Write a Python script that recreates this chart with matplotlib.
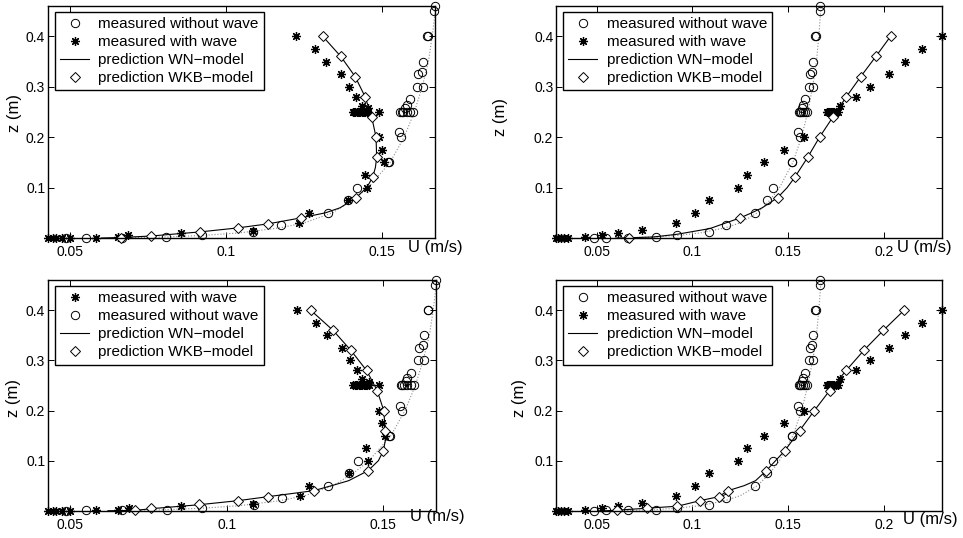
import matplotlib
matplotlib.use("Agg")
import matplotlib.pyplot as plt

plt.rcParams["font.family"] = ["Liberation Sans", "DejaVu Sans"]

# measured without wave (same profile in all four panels)
u_nowave = [0.1669, 0.1665, 0.1642, 0.1645, 0.1630, 0.1627, 0.1614, 0.1611, 0.1630, 0.1590, 0.1578, 0.1572,
            0.1556, 0.1562, 0.1568, 0.1578, 0.1589, 0.1599,
            0.1553, 0.1560, 0.1518, 0.1521, 0.1419, 0.1390, 0.1325, 0.1175, 0.1087, 0.0922, 0.0808, 0.0665,
            0.0550, 0.0486]
z_nowave = [0.46, 0.45, 0.4, 0.4, 0.35, 0.33, 0.325, 0.3, 0.3, 0.275, 0.264, 0.258,
            0.25, 0.25, 0.25, 0.25, 0.25, 0.25,
            0.21, 0.2, 0.15, 0.15, 0.1, 0.075, 0.05, 0.025, 0.012, 0.005, 0.002, 0.001, 0.0008, 0.0]

# dotted fit through the measurements without wave
u_fit = [0.066, 0.080, 0.092, 0.104, 0.117, 0.125, 0.134, 0.1405, 0.1455, 0.1525, 0.157, 0.1603,
         0.1628, 0.1648, 0.1660, 0.1672]
z_fit = [0.0005, 0.002, 0.005, 0.01, 0.02, 0.03, 0.05, 0.075, 0.1, 0.15, 0.2, 0.25, 0.3, 0.35, 0.4, 0.46]

# measured with wave, left column
u_wave_l = [0.1224, 0.1285, 0.1319, 0.1368, 0.1393, 0.1416, 0.1434, 0.1454,
            0.1405, 0.1410, 0.1414, 0.1418, 0.1422, 0.1426, 0.1430, 0.1434, 0.1438, 0.1442, 0.1446, 0.1450,
            0.1455, 0.1488,
            0.1488, 0.1498, 0.1505, 0.1445, 0.1452, 0.1390, 0.1264, 0.1233, 0.1085, 0.0855, 0.0686, 0.0652,
            0.0582, 0.0499, 0.0472, 0.0455, 0.0445, 0.0428]
z_wave_l = [0.4, 0.375, 0.35, 0.325, 0.3, 0.28, 0.2625, 0.2575,
            0.25, 0.25, 0.25, 0.25, 0.25, 0.25, 0.25, 0.25, 0.25, 0.25, 0.25, 0.25, 0.25, 0.25,
            0.2, 0.175, 0.15, 0.125, 0.1, 0.075, 0.05, 0.029, 0.014, 0.009, 0.006, 0.0015,
            0.001, 0.0, 0.0, 0.0, 0.0, 0.0]

# measured with wave, right column
u_wave_r = [0.2302, 0.2201, 0.2110, 0.2026, 0.1930, 0.1852, 0.1770,
            0.1704, 0.1708, 0.1712, 0.1716, 0.1720, 0.1724, 0.1728, 0.1732, 0.1736, 0.1742, 0.1750, 0.1760,
            0.1581, 0.1476, 0.1375, 0.1286, 0.1238, 0.1085, 0.1013, 0.0917, 0.0738, 0.0614, 0.0530, 0.0439,
            0.0351, 0.0330, 0.0314, 0.0300, 0.0288]
z_wave_r = [0.4, 0.375, 0.35, 0.325, 0.3, 0.28, 0.2625,
            0.25, 0.25, 0.25, 0.25, 0.25, 0.25, 0.25, 0.25, 0.25, 0.25, 0.25, 0.25,
            0.2, 0.175, 0.15, 0.125, 0.1, 0.075, 0.05, 0.03, 0.015, 0.01, 0.005, 0.002,
            0.0, 0.0, 0.0, 0.0, 0.0]

# WN-model curves
u_wn1 = [0.060, 0.0662, 0.0759, 0.0914, 0.1036, 0.1133, 0.1240, 0.1318, 0.1365, 0.1416, 0.1450, 0.1469,
         0.1478, 0.1482, 0.1480, 0.1466, 0.1445, 0.1413, 0.1367, 0.1309]
z_wn1 = [0.0, 0.001, 0.004, 0.012, 0.02, 0.028, 0.04, 0.05, 0.06, 0.08, 0.1, 0.12,
         0.14, 0.16, 0.2, 0.24, 0.28, 0.32, 0.36, 0.4]
u_wn2 = [0.060, 0.0669, 0.0794, 0.0920, 0.1091, 0.1250, 0.1310, 0.1365, 0.1445, 0.1495, 0.1534, 0.1602,
         0.1664, 0.1734, 0.1804, 0.1879, 0.1958, 0.2035]
z_wn2 = [0.0, 0.0005, 0.002, 0.0074, 0.0187, 0.04, 0.05, 0.06, 0.08, 0.1, 0.12, 0.16,
         0.2, 0.24, 0.28, 0.32, 0.36, 0.4]
u_wn3 = [0.062, 0.0705, 0.0757, 0.0912, 0.1035, 0.1131, 0.1278, 0.1335, 0.1390, 0.1452, 0.1485, 0.1501,
         0.1507, 0.1507, 0.1502, 0.1481, 0.1447, 0.1397, 0.1340, 0.1269]
z_wn3 = [0.0, 0.0005, 0.004, 0.012, 0.02, 0.028, 0.04, 0.05, 0.06, 0.08, 0.1, 0.12,
         0.14, 0.16, 0.2, 0.24, 0.28, 0.32, 0.36, 0.4]
u_wn4 = [0.055, 0.0604, 0.0762, 0.0922, 0.1039, 0.1137, 0.1186, 0.1270, 0.1330, 0.1386, 0.1483, 0.1560,
         0.1637, 0.1717, 0.1803, 0.1895, 0.1997, 0.2105]
z_wn4 = [0.0, 0.001, 0.005, 0.009, 0.02, 0.028, 0.04, 0.05, 0.06, 0.08, 0.12, 0.16,
         0.2, 0.24, 0.28, 0.32, 0.36, 0.4]

# WKB-model points
u_wkb1 = [0.1309, 0.1367, 0.1413, 0.1445, 0.1466, 0.1480, 0.1482, 0.1469, 0.1416, 0.1240, 0.1133, 0.1036,
          0.0914, 0.0759, 0.0662]
z_wkb1 = [0.4, 0.36, 0.32, 0.28, 0.24, 0.2, 0.16, 0.12, 0.08, 0.04, 0.028, 0.02, 0.012, 0.004, 0.001]
u_wkb2 = [0.2035, 0.1958, 0.1879, 0.1804, 0.1734, 0.1664, 0.1602, 0.1534, 0.1445, 0.1250, 0.0669]
z_wkb2 = [0.4, 0.36, 0.32, 0.28, 0.24, 0.2, 0.16, 0.12, 0.08, 0.04, 0.001]
u_wkb3 = [0.1269, 0.1340, 0.1397, 0.1447, 0.1481, 0.1502, 0.1507, 0.1501, 0.1452, 0.1278, 0.1131, 0.1035,
          0.0912, 0.0757, 0.0705]
z_wkb3 = [0.4, 0.36, 0.32, 0.28, 0.24, 0.2, 0.16, 0.12, 0.08, 0.04, 0.028, 0.02, 0.013, 0.005, 0.0005]
u_wkb4 = [0.2105, 0.1997, 0.1895, 0.1803, 0.1717, 0.1637, 0.1560, 0.1483, 0.1386, 0.1186, 0.1137, 0.1039,
          0.0922, 0.0762, 0.0604]
z_wkb4 = [0.4, 0.36, 0.32, 0.28, 0.24, 0.2, 0.16, 0.12, 0.08, 0.04, 0.028, 0.02, 0.009, 0.005, 0.001]

lab_no = "measured without wave"
lab_wave = "measured with wave"
lab_wn = "prediction WN\u2212model"
lab_wkb = "prediction WKB\u2212model"

xticks_l = [0.05, 0.1, 0.15]
xticks_r = [0.05, 0.1, 0.15, 0.2]
yticks = [0.1, 0.2, 0.3, 0.4]

fig = plt.figure(figsize=(9.63, 5.38), dpi=100)

panels = [
    # rect, wave data, wn, wkb, xticks, stars first in legend, ulabel pos, zlabel pos
    ([0.0498, 0.5576, 0.4019, 0.4312], u_wave_l, z_wave_l, u_wn1, z_wn1, u_wkb1, z_wkb1, xticks_l, False,
     (0.93, -0.042), (-0.067, 0.537)),
    ([0.5774, 0.5576, 0.4005, 0.4312], u_wave_r, z_wave_r, u_wn2, z_wn2, u_wkb2, z_wkb2, xticks_r, False,
     (0.883, -0.040), (-0.124, 0.523)),
    ([0.0498, 0.0507, 0.4029, 0.4283], u_wave_l, z_wave_l, u_wn3, z_wn3, u_wkb3, z_wkb3, xticks_l, True,
     (0.933, -0.025), (-0.070, 0.490)),
    ([0.5774, 0.0507, 0.4005, 0.4283], u_wave_r, z_wave_r, u_wn4, z_wn4, u_wkb4, z_wkb4, xticks_r, False,
     (0.90, -0.040), (-0.075, 0.488)),
]

for rect, uw, zw, uwn, zwn, ukb, zkb, xt, stars_first, upos, zpos in panels:
    ax = fig.add_axes(rect)
    ax.plot(u_fit, z_fit, ":", color="0.55", lw=0.8)
    h_no, = ax.plot(u_nowave, z_nowave, "o", mfc="none", mec="k", ms=6, mew=0.7,
                    clip_on=False, label=lab_no)
    h_wave, = ax.plot(uw, zw, ls="none", marker=(8, 2, 0), color="k", ms=6.5, mew=0.9,
                      clip_on=False, label=lab_wave)
    h_wn, = ax.plot(uwn, zwn, "-", color="k", lw=0.8, label=lab_wn)
    h_wkb, = ax.plot(ukb, zkb, "D", mfc="white", mec="k", ms=5.3, mew=0.7,
                     clip_on=False, label=lab_wkb)

    ax.set_xlim(min(uw + u_nowave), max(uw + u_nowave))
    ax.set_ylim(0, 0.46)
    ax.set_xticks(xt)
    ax.set_xticklabels([f"{v:g}" for v in xt])
    ax.set_yticks(yticks)
    ax.set_yticklabels([f"{v:g}" for v in yticks])
    ax.tick_params(direction="in", top=True, right=True, length=4, width=0.7, labelsize=10)
    ax.tick_params(axis="x", pad=5)
    ax.tick_params(axis="y", pad=2)
    for s in ax.spines.values():
        s.set_linewidth(1.0)

    ax.set_ylabel("z (m)", fontsize=12)
    ax.yaxis.set_label_coords(*zpos)
    ax.text(upos[0], upos[1], "U (m/s)", transform=ax.transAxes, fontsize=12,
            ha="left", va="center")

    if stars_first:
        handles = [h_wave, h_no, h_wn, h_wkb]
    else:
        handles = [h_no, h_wave, h_wn, h_wkb]
    leg = ax.legend(handles=handles, loc="upper left", bbox_to_anchor=(0.018, 0.975),
                    borderaxespad=0, fontsize=11, frameon=True, fancybox=False,
                    edgecolor="k", framealpha=1, handlelength=1.9, handletextpad=0.6,
                    labelspacing=0.26, borderpad=0.35)
    leg.get_frame().set_linewidth(1.0)

fig.savefig("out.png", dpi=100)
